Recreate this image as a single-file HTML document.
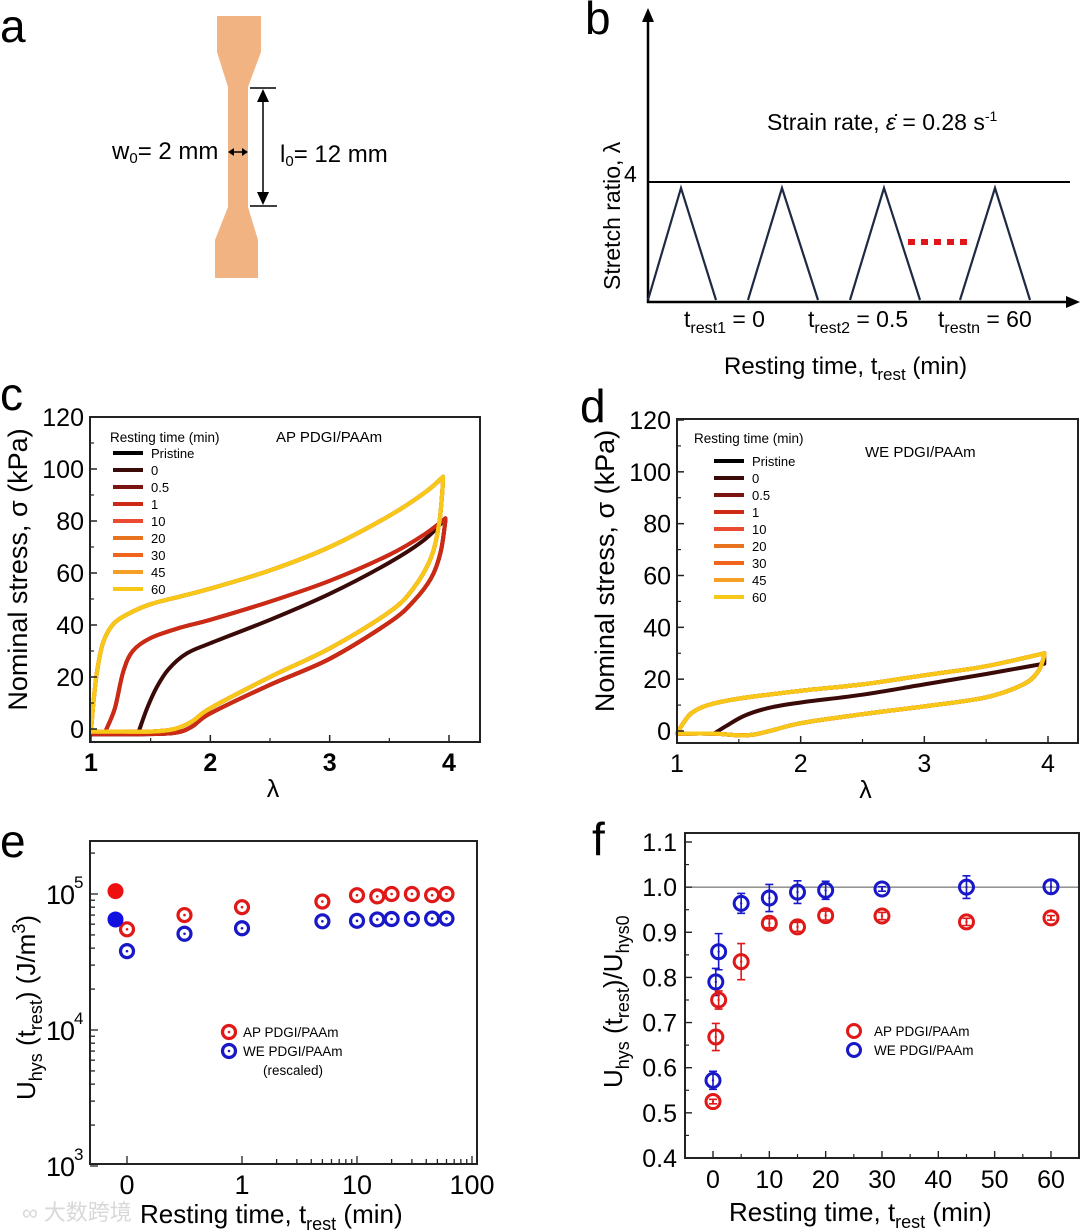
<!DOCTYPE html>
<html><head><meta charset="utf-8"><style>
html,body{margin:0;padding:0;background:#fff;}
svg{display:block;font-family:"Liberation Sans","Noto Sans CJK SC",sans-serif;}
</style></head><body>
<svg id="fig" width="1080" height="1232" viewBox="0 0 1080 1232" xmlns="http://www.w3.org/2000/svg">
<g>
<text x="0" y="42" font-size="46">a</text>
<polygon fill="#f2b382" points="217,16 261,16 261,52 248,87 248,207 258,240 258,278 215,278 215,240 228,207 228,87 217,52"/>
<line x1="250" y1="88" x2="276" y2="88" stroke="#000" stroke-width="1.5"/>
<line x1="250" y1="206" x2="277" y2="206" stroke="#000" stroke-width="1.5"/>
<line x1="263" y1="100" x2="263" y2="194" stroke="#000" stroke-width="1.5"/>
<polygon points="263,89 257,102 269,102" fill="#000"/>
<polygon points="263,205 257,192 269,192" fill="#000"/>
<line x1="232" y1="152" x2="244" y2="152" stroke="#000" stroke-width="1.5"/>
<polygon points="228,152 234,148 234,156" fill="#000"/>
<polygon points="248,152 242,148 242,156" fill="#000"/>
<text x="112" y="159" font-size="24">w<tspan font-size="15" dy="4">0</tspan><tspan dy="-4">= 2 mm</tspan></text>
<text x="280" y="162" font-size="24">l<tspan font-size="15" dy="4">0</tspan><tspan dy="-4">= 12 mm</tspan></text>
</g>
<g>
<text x="585" y="34" font-size="46">b</text>
<line x1="648" y1="20" x2="648" y2="303" stroke="#000" stroke-width="2.5"/>
<polygon points="648,8 642,22 654,22" fill="#000"/>
<line x1="647" y1="302" x2="1068" y2="302" stroke="#000" stroke-width="2.5"/>
<polygon points="1080,302 1066,296 1066,308" fill="#000"/>
<line x1="648" y1="182" x2="1070" y2="182" stroke="#000" stroke-width="2"/>
<text x="624" y="182" font-size="23">4</text>
<g fill="none" stroke="#1e2a44" stroke-width="2.2">
<polyline points="648,300 681,188 716,300"/>
<polyline points="748,300 782,188 818,300"/>
<polyline points="850,300 884,188 920,300"/>
<polyline points="960,300 995,188 1030,300"/>
</g>
<line x1="908" y1="242" x2="972" y2="242" stroke="#e0161b" stroke-width="6" stroke-dasharray="7,6"/>
<text x="767" y="130" font-size="23">Strain rate, <tspan font-style="italic">ε̇</tspan> = 0.28 s<tspan font-size="14" dy="-9">-1</tspan></text>
<text x="684" y="327" font-size="23">t<tspan font-size="16" dy="6">rest1</tspan><tspan dy="-6"> = 0</tspan></text>
<text x="808" y="327" font-size="23">t<tspan font-size="16" dy="6">rest2</tspan><tspan dy="-6"> = 0.5</tspan></text>
<text x="938" y="327" font-size="23">t<tspan font-size="16" dy="6">restn</tspan><tspan dy="-6"> = 60</tspan></text>
<text x="724" y="374" font-size="24">Resting time, t<tspan font-size="17" dy="6">rest</tspan><tspan dy="-6"> (min)</tspan></text>
<text transform="translate(620,290) rotate(-90)" font-size="23">Stretch ratio, λ</text>
</g>
<g id="pc"></g>
<g id="pd"></g>
<g id="pe"></g>
<g id="pf"></g>
<text x="22" y="1220" font-size="22" fill="#d8d8d8">∞ 大数跨境</text>
</svg>
<script>
// ---------- data ----------
const legendNames = ["Pristine","0","0.5","1","10","20","30","45","60"];
const seriesColors = ["#000000","#3a0a08","#7a1410","#cc2a14","#ea4a30","#e8731e","#f0641c","#f5a024","#f8c818"];
const apLoadUpper = [[1,-1],[1.02,10],[1.05,22],[1.1,33],[1.18,40],[1.3,44],[1.5,48],[1.75,51],[2,54],[2.5,61],[3,70],[3.5,82],[3.8,91],[3.95,97]];
const apLoadMid = [[1.12,-1],[1.2,8],[1.27,22],[1.35,30],[1.5,35],[1.75,39],[2,42],[2.5,49],[3,57],[3.5,67],[3.8,75],[3.97,81]];
const apLoadLow = [[1.4,-1],[1.47,8],[1.55,16],[1.65,23],[1.8,29],[2,33],[2.5,42],[3,52],[3.5,64],[3.8,73],[3.97,81]];
const apUnloadUpper = [[3.95,95],[3.92,80],[3.85,66],[3.7,54],[3.5,45],[3,31],[2.5,20],[2,8],[1.85,3],[1.7,0],[1.5,-1],[1.2,-1],[1,-1]];
const apUnloadLow = [[3.97,80],[3.93,68],[3.85,58],[3.7,49],[3.5,41],[3,27],[2.5,17],[2,6],[1.85,1],[1.7,-1.5],[1.4,-2],[1.2,-2],[1,-2]];
const weLoadUpper = [[1,-1],[1.05,3],[1.12,7],[1.25,10],[1.5,12.5],[2,15.5],[2.5,18],[3,21.5],[3.5,25],[3.97,30]];
const weLoadLow = [[1.3,-1],[1.4,2],[1.55,6],[1.75,9],[2,11],[2.5,14],[3,18],[3.5,22],[3.97,26]];
const weUnload = [[3.97,29],[3.92,23],[3.8,18],[3.5,13],[3,9.5],[2.5,6.5],[2,3],[1.6,-1.5],[1.3,-1],[1,-1]];
const eTimes = [0,0.5,1,5,10,15,20,30,45,60];
const eAP = [5.5e4,7.0e4,8.0e4,8.8e4,9.8e4,9.6e4,1.0e5,1.0e5,9.8e4,1.0e5];
const eWE = [3.8e4,5.1e4,5.6e4,6.3e4,6.35e4,6.5e4,6.55e4,6.55e4,6.6e4,6.6e4];
const ePristineAP = 1.05e5;
const ePristineWE = 6.5e4;
const fTimes = [0,0.5,1,5,10,15,20,30,45,60];
const fAP = [0.525,0.668,0.75,0.835,0.92,0.912,0.937,0.936,0.923,0.932];
const fAPerr = [0.005,0.03,0.02,0.04,0.01,0.01,0.01,0.008,0.008,0.005];
const fWE = [0.572,0.79,0.857,0.964,0.976,0.989,0.993,0.996,1.0,1.001];
const fWEerr = [0.02,0.03,0.04,0.022,0.03,0.025,0.02,0.005,0.025,0.015];
const cyTicks = [0,20,40,60,80,100,120];
const xLamTicks = [1,2,3,4];
const fyTicks = [0.4,0.5,0.6,0.7,0.8,0.9,1.0,1.1];
const fxTicks = [0,10,20,30,40,50,60];

const NS="http://www.w3.org/2000/svg";
function mk(parent,tag,attrs){const e=document.createElementNS(NS,tag);for(const k in attrs)e.setAttribute(k,attrs[k]);parent.appendChild(e);return e;}
function txt(parent,x,y,s,size,anchor,extra){const t=mk(parent,"text",Object.assign({x:x,y:y,"font-size":size,"text-anchor":anchor||"start"},extra||{}));t.textContent=s;return t;}
function smooth(p){ // catmull-rom to bezier
  let d="M"+p[0][0].toFixed(1)+","+p[0][1].toFixed(1);
  for(let i=0;i<p.length-1;i++){
    const p0=p[i-1]||p[i],p1=p[i],p2=p[i+1],p3=p[i+2]||p2;
    const c1=[p1[0]+(p2[0]-p0[0])/6,p1[1]+(p2[1]-p0[1])/6];
    const c2=[p2[0]-(p3[0]-p1[0])/6,p2[1]-(p3[1]-p1[1])/6];
    d+="C"+c1.map(v=>v.toFixed(1)).join(",")+" "+c2.map(v=>v.toFixed(1)).join(",")+" "+p2[0].toFixed(1)+","+p2[1].toFixed(1);
  }
  return d;
}

function stressPanel(g,box,x1px,x4px,y0px,y120px,loads,unloads,title,legendPos,letter,letterPos,bold){
  const X=l=>x1px+(l-1)*(x4px-x1px)/3;
  const Y=s=>y0px+(s)*(y120px-y0px)/120;
  let e;
  e=txt(g,letterPos[0],letterPos[1],letter,46);
  
  
  for(let i=0;i<9;i++){
    const pts=loads[i].map(p=>[X(p[0]),Y(p[1])]);
    const upts=unloads[i].map(p=>[X(p[0]),Y(p[1])]);
    e=mk(g,"path",{d:smooth(pts)+" L"+upts[0][0].toFixed(1)+","+upts[0][1].toFixed(1)+" "+smooth(upts).slice(1).replace(/^[^C]*/,""),fill:"none",stroke:seriesColors[i],"stroke-width":4,"stroke-linejoin":"round","stroke-linecap":"round"});
    
    
  }
  e=mk(g,"rect",{x:box[0],y:box[1],width:box[2]-box[0],height:box[3]-box[1],fill:"none",stroke:"#222","stroke-width":2});
  
  
  cyTicks.forEach(v=>{
    e=mk(g,"line",{x1:box[0],x2:box[0]+7,y1:Y(v),y2:Y(v),stroke:"#222","stroke-width":1.5});
    
    
    if(v<120){e=mk(g,"line",{x1:box[0],x2:box[0]+4,y1:Y(v+10),y2:Y(v+10),stroke:"#222","stroke-width":1.2});
    
    }
    e=txt(g,box[0]-6,Y(v)+9,String(v),25,"end");
    
    
  });
  xLamTicks.forEach(v=>{
    e=mk(g,"line",{x1:X(v),x2:X(v),y1:box[3],y2:box[3]-7,stroke:"#222","stroke-width":1.5});
    
    
    if(v<4){e=mk(g,"line",{x1:X(v+0.5),x2:X(v+0.5),y1:box[3],y2:box[3]-4,stroke:"#222","stroke-width":1.2});
    
    }
    e=txt(g,X(v),box[3]+29,String(v),25,"middle",bold?{"font-weight":"bold"}:{});
    
    
  });
  e=txt(g,(box[0]+box[2])/2-12,box[3]+55,"λ",25,"middle");
  
  
  e=txt(g,0,0,"Nominal stress, σ (kPa)",27,"middle",{transform:"translate("+(box[0]-63)+","+((box[1]+box[3])/2-10)+") rotate(-90)"});
  
  
  e=txt(g,title[1],title[2],title[0],15);
  
  
  e=txt(g,legendPos[0]-2,legendPos[1],"Resting time (min)",13.5);
  
  
  for(let i=0;i<9;i++){
    const yy=legendPos[1]+16+17*i+legendPos[3];
    e=mk(g,"line",{x1:legendPos[2],x2:legendPos[2]+30,y1:yy,y2:yy,stroke:seriesColors[i],"stroke-width":4});
    
    
    e=txt(g,legendPos[2]+38,yy+5,legendNames[i],13);
    
    
  }
}
const cLoads=[apLoadUpper,apLoadLow,apLoadMid,apLoadMid,apLoadUpper,apLoadUpper,apLoadUpper,apLoadUpper,apLoadUpper];
const cUnloads=[apUnloadUpper,apUnloadLow,apUnloadLow,apUnloadLow,apUnloadUpper,apUnloadUpper,apUnloadUpper,apUnloadUpper,apUnloadUpper];
stressPanel(document.getElementById("pc"),[90,417,480,742],91,449,729,417,cLoads,cUnloads,["AP PDGI/PAAm",276,442],[112,442,113,-5],"c",[0,410],true);
const dLoads=[weLoadUpper,weLoadLow,weLoadUpper,weLoadUpper,weLoadUpper,weLoadUpper,weLoadUpper,weLoadUpper,weLoadUpper];
const dUnloads=[weUnload,weUnload,weUnload,weUnload,weUnload,weUnload,weUnload,weUnload,weUnload];
stressPanel(document.getElementById("pd"),[677,419,1078,743],677,1048,731,420,dLoads,dUnloads,["WE PDGI/PAAm",865,457],[696,443,714,2],"d",[580,422],false);

(function(){
  const g=document.getElementById("pe");
  const X=t=>t<=1?127+t*115:242+115*Math.log10(t);
  const Y=v=>894-136*Math.log10(v/1e5);
  const box=[90,841,477,1164];
  let e;
  e=txt(g,0,857,"e",46);
  
  
  e=mk(g,"rect",{x:box[0],y:box[1],width:box[2]-box[0],height:box[3]-box[1],fill:"none",stroke:"#222","stroke-width":2});
  
  
  [1e3,1e4,1e5].forEach((d,i)=>{
    for(let m=1;m<=9;m++){const v=d*m;if(v>2.2e5)break;
      e=mk(g,"line",{x1:box[0],x2:box[0]+(m===1?8:5),y1:Y(v),y2:Y(v),stroke:"#222","stroke-width":1.3});
      
      }
    e=txt(g,box[0]-16,Y(d)+10,"10",27,"end",{"letter-spacing":"-1"});
    
    
    e=txt(g,box[0]-16,Y(d)-6,String(3+i),17,"start");
    
    
  });
  const xt=[0,1,2,3,4,5,6,7,8,9,10,20,30,40,50,60,70,80,90,100];
  xt.forEach(t=>{const major=(t===0||t===1||t===10||t===100);
    e=mk(g,"line",{x1:X(t),x2:X(t),y1:box[3],y2:box[3]-(major?8:5),stroke:"#222","stroke-width":1.3});
    
    
    if(major){e=txt(g,X(t),box[3]+30,String(t),27,"middle");
      
      }
  });
  function ring(cx,cy,col,name){
    e=mk(g,"circle",{cx:cx,cy:cy,r:6.5,fill:"none",stroke:col,"stroke-width":3.2});
    
    
    e=mk(g,"circle",{cx:cx,cy:cy,r:1.3,fill:col});
    
    
  }
  eTimes.forEach((t,i)=>{ring(X(t),Y(eAP[i]),"#e01818","point-ap");ring(X(t),Y(eWE[i]),"#1818c8","point-we");});
  e=mk(g,"circle",{cx:X(-0.1),cy:Y(ePristineAP),r:8,fill:"#ee1010"});
  
  
  e=mk(g,"circle",{cx:X(-0.1),cy:Y(ePristineWE),r:8,fill:"#1010e0"});
  
  
  ring(229,1032,"#e01818","legend-marker-ap");
  ring(229,1051,"#1818c8","legend-marker-we");
  e=txt(g,243,1037,"AP PDGI/PAAm",13.5);
  
  
  e=txt(g,243,1056,"WE PDGI/PAAm",13.5);
  
  
  e=txt(g,263,1075,"(rescaled)",13.5);
  
  
  e=mk(g,"text",{x:140,y:1223,"font-size":26});
  e.innerHTML='Resting time, t<tspan font-size="18" dy="7">rest</tspan><tspan dy="-7"> (min)</tspan>';
  
  
  e=mk(g,"text",{transform:"translate(35,1100) rotate(-90)","font-size":26});
  e.innerHTML='U<tspan font-size="18" dy="7">hys</tspan><tspan dy="-7"> (t</tspan><tspan font-size="18" dy="7">rest</tspan><tspan dy="-7">) (J/m</tspan><tspan font-size="18" dy="-10">3</tspan><tspan dy="10">)</tspan>';
  
  
})();

(function(){
  const g=document.getElementById("pf");
  const X=t=>713+t*5.633;
  const Y=v=>842+(1.1-v)*451.4;
  const box=[685,833,1079,1158];
  let e;
  e=txt(g,592,855,"f",46);
  
  
  e=mk(g,"line",{x1:box[0],x2:box[2],y1:Y(1),y2:Y(1),stroke:"#555","stroke-width":1});
  
  
  e=mk(g,"rect",{x:box[0],y:box[1],width:box[2]-box[0],height:box[3]-box[1],fill:"none",stroke:"#222","stroke-width":2});
  
  
  fyTicks.forEach(v=>{
    e=mk(g,"line",{x1:box[0],x2:box[0]+7,y1:Y(v),y2:Y(v),stroke:"#222","stroke-width":1.4});
    
    
    if(v<1.05){e=mk(g,"line",{x1:box[0],x2:box[0]+4,y1:Y(v+0.05),y2:Y(v+0.05),stroke:"#222","stroke-width":1.2});
    
    }
    e=txt(g,box[0]-8,Y(v)+9,v.toFixed(1),25,"end");
    
    
  });
  fxTicks.forEach(t=>{
    e=mk(g,"line",{x1:X(t),x2:X(t),y1:box[3],y2:box[3]-7,stroke:"#222","stroke-width":1.4});
    
    
    e=mk(g,"line",{x1:X(t+5),x2:X(t+5),y1:box[3],y2:box[3]-4,stroke:"#222","stroke-width":1.2});
    
    
    e=txt(g,X(t),box[3]+30,String(t),25,"middle");
    
    
  });
  function pt(t,v,err,col,name){
    const cx=X(t),cy=Y(v),d=err*451.4;
    e=mk(g,"path",{d:"M"+cx+","+(cy-d)+"V"+(cy+d)+"M"+(cx-4)+","+(cy-d)+"H"+(cx+4)+"M"+(cx-4)+","+(cy+d)+"H"+(cx+4),stroke:col,"stroke-width":1.6,fill:"none"});
    
    
    e=mk(g,"circle",{cx:cx,cy:cy,r:7,fill:"none",stroke:col,"stroke-width":3});
    
    
    e=mk(g,"circle",{cx:cx,cy:cy,r:1.2,fill:col});
    
    
  }
  fTimes.forEach((t,i)=>{pt(t,fAP[i],fAPerr[i],"#e01818","point-ap");pt(t,fWE[i],fWEerr[i],"#1818c8","point-we");});
  e=mk(g,"circle",{cx:854,cy:1031,r:6.5,fill:"none",stroke:"#e01818","stroke-width":3});
  
  
  e=mk(g,"circle",{cx:854,cy:1050,r:6.5,fill:"none",stroke:"#1818c8","stroke-width":3});
  
  
  e=txt(g,874,1036,"AP PDGI/PAAm",13.5);
  
  
  e=txt(g,874,1055,"WE PDGI/PAAm",13.5);
  
  
  e=mk(g,"text",{x:729,y:1221,"font-size":26});
  e.innerHTML='Resting time, t<tspan font-size="18" dy="7">rest</tspan><tspan dy="-7"> (min)</tspan>';
  
  
  e=mk(g,"text",{transform:"translate(622,1088) rotate(-90)","font-size":26});
  e.innerHTML='U<tspan font-size="18" dy="7">hys</tspan><tspan dy="-7"> (t</tspan><tspan font-size="18" dy="7">rest</tspan><tspan dy="-7">)/U</tspan><tspan font-size="18" dy="7">hys0</tspan>';
  
  
})();
</script>
</body></html>
